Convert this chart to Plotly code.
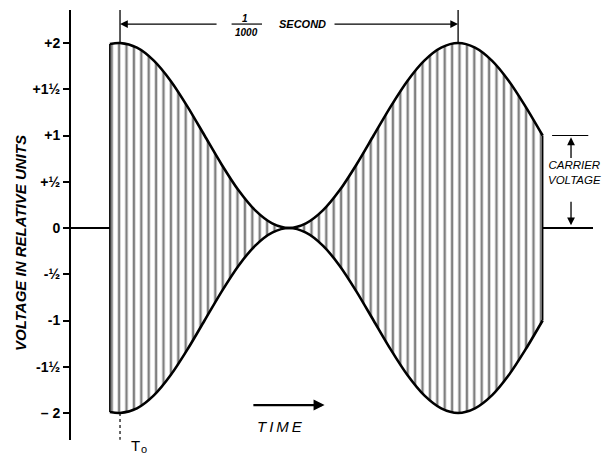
import plotly.graph_objects as go

# time in milliseconds, envelope in relative voltage units
time_ms = [-0.03, 0.0, 0.05, 0.10, 0.15, 0.20, 0.25, 0.30, 0.35, 0.40, 0.45, 0.50,
           0.55, 0.60, 0.65, 0.70, 0.75, 0.80, 0.85, 0.90, 0.95, 1.00,
           1.05, 1.10, 1.15, 1.20, 1.25]
envelope = [1.99, 2.00, 1.95, 1.81, 1.59, 1.31, 1.00, 0.69, 0.41, 0.19, 0.05, 0.00,
            0.05, 0.19, 0.41, 0.69, 1.00, 1.31, 1.59, 1.81, 1.95, 2.00,
            1.95, 1.81, 1.59, 1.31, 1.00]
lower_env = [-v for v in envelope]

tick_vals = [-2, -1.5, -1, -0.5, 0, 0.5, 1, 1.5, 2]
tick_text = ["\u2013 2", "-1\u00bd", "-1", "-\u00bd", "0", "+\u00bd", "+1", "+1\u00bd", "+2"]

carrier_level = 1.0
period_ms = 1.0

FONT = "Liberation Sans"

fig = go.Figure()

# upper envelope
fig.add_trace(go.Scatter(x=time_ms, y=envelope, mode="lines",
                         line=dict(color="black", width=2.6, shape="spline", smoothing=0.8),
                         hoverinfo="skip", showlegend=False))
# lower envelope with hatched fill (carrier cycles)
fig.add_trace(go.Scatter(x=time_ms, y=lower_env, mode="lines",
                         line=dict(color="black", width=2.6, shape="spline", smoothing=0.8),
                         fill="tonexty", fillcolor="white",
                         fillpattern=dict(shape="|", size=7.4, solidity=0.33,
                                          fgcolor="black", bgcolor="white"),
                         hoverinfo="skip", showlegend=False))
# edges of the hatched region
fig.add_trace(go.Scatter(x=[time_ms[0], time_ms[0]], y=[lower_env[0], envelope[0]], mode="lines",
                         line=dict(color="black", width=1.6), hoverinfo="skip", showlegend=False))
fig.add_trace(go.Scatter(x=[time_ms[-1], time_ms[-1]], y=[lower_env[-1], envelope[-1]], mode="lines",
                         line=dict(color="black", width=1.6), hoverinfo="skip", showlegend=False))

shapes = []
# 1/1000 second dimension verticals
for tx in [0.0, period_ms]:
    shapes.append(dict(type="line", xref="x", yref="y", x0=tx, x1=tx, y0=2.0, y1=2.36,
                       line=dict(color="black", width=1.3)))
# T0 dotted line below
shapes.append(dict(type="line", xref="x", yref="y", x0=0, x1=0, y0=-2.0, y1=-2.29,
                   line=dict(color="black", width=1.2, dash="dot")))
# fraction bar
shapes.append(dict(type="line", xref="x", yref="y", x0=0.33, x1=0.42, y0=2.205, y1=2.205,
                   line=dict(color="black", width=1.2)))
# carrier voltage top bar
shapes.append(dict(type="line", xref="x", yref="y", x0=1.278, x1=1.385,
                   y0=carrier_level, y1=carrier_level, line=dict(color="black", width=1.2)))

annotations = []
def arrow(x, y, ax, ay, width=1.3, size=1.2):
    annotations.append(dict(x=x, y=y, ax=ax, ay=ay, xref="x", yref="y", axref="x", ayref="y",
                            text="", showarrow=True, arrowhead=2, arrowsize=size,
                            arrowwidth=width, arrowcolor="black"))

# dimension arrows
arrow(0.0, 2.205, 0.29, 2.205)
arrow(period_ms, 2.205, 0.63, 2.205)
# carrier voltage arrows
arrow(1.334, 0.98, 1.334, 0.74)
arrow(1.334, 0.03, 1.334, 0.30)
# time arrow
arrow(0.605, -1.914, 0.39, -1.914, width=2.2, size=1.0)

ital = dict(family=FONT, color="black", style="italic", weight="bold")
annotations += [
    dict(x=0.37, y=2.27, xref="x", yref="y", text="1", showarrow=False,
         font=dict(size=10, **ital)),
    dict(x=0.375, y=2.115, xref="x", yref="y", text="1000", showarrow=False,
         font=dict(size=10, **ital)),
    dict(x=0.54, y=2.205, xref="x", yref="y", text="SECOND", showarrow=False,
         font=dict(size=11, **ital)),
    dict(x=1.345, y=0.6, xref="x", yref="y", text="CARRIER<br>VOLTAGE", showarrow=False,
         align="center", xanchor="center",
         font=dict(size=11.5, family=FONT, color="black", style="italic")),
    dict(x=0.473, y=-2.15, xref="x", yref="y", text="T\u2009I\u2009M\u2009E", showarrow=False,
         font=dict(size=15, family=FONT, color="black", style="italic")),
    dict(x=0.124, y=-0.0135, xref="paper", yref="paper", text="T", showarrow=False,
         xanchor="center", yanchor="middle",
         font=dict(size=15, family=FONT, color="black")),
    dict(x=0.140, y=-0.021, xref="paper", yref="paper", text="o", showarrow=False,
         xanchor="center", yanchor="middle",
         font=dict(size=11, family=FONT, color="black")),
    dict(x=-0.098, y=0.458, xref="paper", yref="paper", text="VOLTAGE IN RELATIVE UNITS",
         textangle=-90, showarrow=False, xanchor="center", yanchor="middle",
         font=dict(size=15, **ital)),
]

# page body has an 8px default margin, so the figure is shifted by 8px
fig.update_layout(
    width=602, height=448,
    margin=dict(l=63, r=17, t=2, b=16),
    paper_bgcolor="white", plot_bgcolor="white",
    shapes=shapes, annotations=annotations,
    showlegend=False,
    xaxis=dict(range=[-0.145, 1.399], visible=False, showgrid=False, zeroline=False),
    yaxis=dict(range=[-2.292, 2.357], showgrid=False, showline=True, linecolor="black",
               linewidth=2, ticks="outside", ticklen=6, tickwidth=2, tickcolor="black",
               tickvals=tick_vals, ticktext=tick_text,
               tickfont=dict(family=FONT, size=14, color="black", weight="bold"),
               zeroline=True, zerolinecolor="black", zerolinewidth=1.5),
)

fig.write_html("out.html")
